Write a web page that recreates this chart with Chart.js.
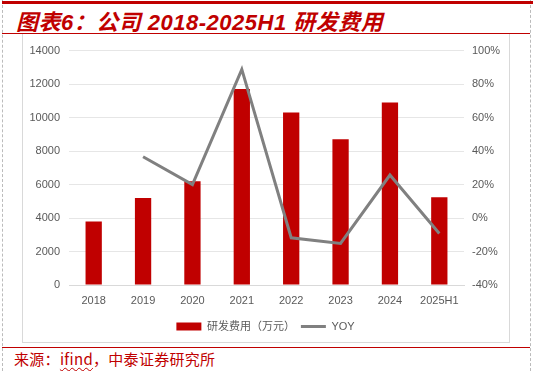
<!DOCTYPE html>
<html>
<head>
<meta charset="utf-8">
<script src="https://cdn.jsdelivr.net/npm/chart.js@4.4.0/dist/chart.umd.min.js"></script>
<style>
  body { margin: 0; background: #fff; }
  #page { position: relative; width: 535px; height: 371px; overflow: hidden; }
  #frame { position: absolute; left: 2px; top: 0; width: 527px; height: 371px;
           border-left: 1px dashed #bbb; border-right: 1px dashed #bbb; }
  #topbar { position: absolute; left: 2px; top: 1px; width: 531px; height: 3px; background: #c00000; }
  #title { position: absolute; left: 16px; top: 4px; font-family: "Liberation Sans", "Noto Sans CJK SC", sans-serif;
           font-size: 22px; font-weight: bold; font-style: italic; color: #c00000; white-space: nowrap; letter-spacing: 0.5px; }
  #rule1 { position: absolute; left: 2px; top: 33px; width: 528px; height: 1px; background: #c00000; }
  #box { position: absolute; left: 22px; top: 34px; width: 486px; height: 308px; border: 1px solid #d9d9d9; border-top: none; }
  #cv { position: absolute; left: 23px; top: 35px; }
  #rule2 { position: absolute; left: 2px; top: 347px; width: 528px; height: 1px; background: #c00000; }
  #src { position: absolute; left: 14px; top: 348px; font-family: "Noto Sans CJK SC", sans-serif; font-size: 15px;
         color: #c00000; white-space: nowrap; letter-spacing: 0.3px; }
  #src u { text-decoration: underline wavy #c00000; text-decoration-thickness: 1px; text-underline-offset: 2px; }
</style>
</head>
<body>
<div id="page">
  <div id="frame"></div>
  <div id="topbar"></div>
  <div id="title">图表6：公司 2018-2025H1 研发费用</div>
  <div id="rule1"></div>
  <div id="box"></div>
  <canvas id="cv" width="485" height="307"></canvas>
  <div id="rule2"></div>
  <div id="src">来源：<u>ifind</u>，中泰证券研究所</div>
</div>
<script>
const labels = ['2018', '2019', '2020', '2021', '2022', '2023', '2024', '2025H1']
const rdExpense = [3800, 5200, 6200, 11700, 10300, 8700, 10900, 5240]
const yoy = [null, 0.366, 0.20, 0.888, -0.118, -0.152, 0.257, -0.092]

const tickFont = { family: '"Liberation Sans", "Noto Sans CJK SC", sans-serif', size: 11 }

const config = {
    type: 'bar',
    data: {
        labels: labels,
        datasets: [
        {
            type: 'line',
            label: 'YOY',
            data: yoy,
            borderColor: '#808080',
            backgroundColor: '#808080',
            borderWidth: 3,
            pointRadius: 0,
            tension: 0,
            yAxisID: 'y1',
            pointStyle: 'line',
            order: 0,
        },
        {
            label: '研发费用（万元）',
            data: rdExpense,
            backgroundColor: '#c00000',
            categoryPercentage: 1,
            barPercentage: 0.33,
            yAxisID: 'y',
            pointStyle: 'rect',
            order: 1,
        }]
    },
    options: {
        responsive: false,
        animation: false,
        layout: { padding: { top: 14, left: 0, right: 0, bottom: 0 } },
        plugins: {
            legend: {
                position: 'bottom',
                reverse: true,
                labels: {
                    usePointStyle: true,
                    pointStyleWidth: 25,
                    boxHeight: 8,
                    color: '#595959',
                    font: tickFont,
                    padding: 6,
                }
            },
            tooltip: { enabled: false }
        },
        scales: {
            x: {
                grid: { display: false },
                border: { color: '#d9d9d9' },
                ticks: { color: '#595959', font: tickFont, padding: 1, maxRotation: 0 },
                afterFit: s => { s.height = 30 }
            },
            y: {
                position: 'left',
                min: 0,
                max: 14000,
                ticks: { stepSize: 2000, color: '#595959', font: tickFont, padding: 9,
                    callback: v => String(v) },
                grid: { color: '#e6e6e6', drawTicks: false },
                border: { display: false },
                afterFit: s => { s.width = 46 }
            },
            y1: {
                position: 'right',
                min: -0.4,
                max: 1.0,
                ticks: { stepSize: 0.2, color: '#595959', font: tickFont, padding: 8,
                    callback: v => Math.round(v * 100) + '%' },
                grid: { display: false, drawTicks: false },
                border: { display: false },
                afterFit: s => { s.width = 44 }
            }
        }
    }
}

const chart = new Chart(document.getElementById('cv'), config)
</script>
</body>
</html>
